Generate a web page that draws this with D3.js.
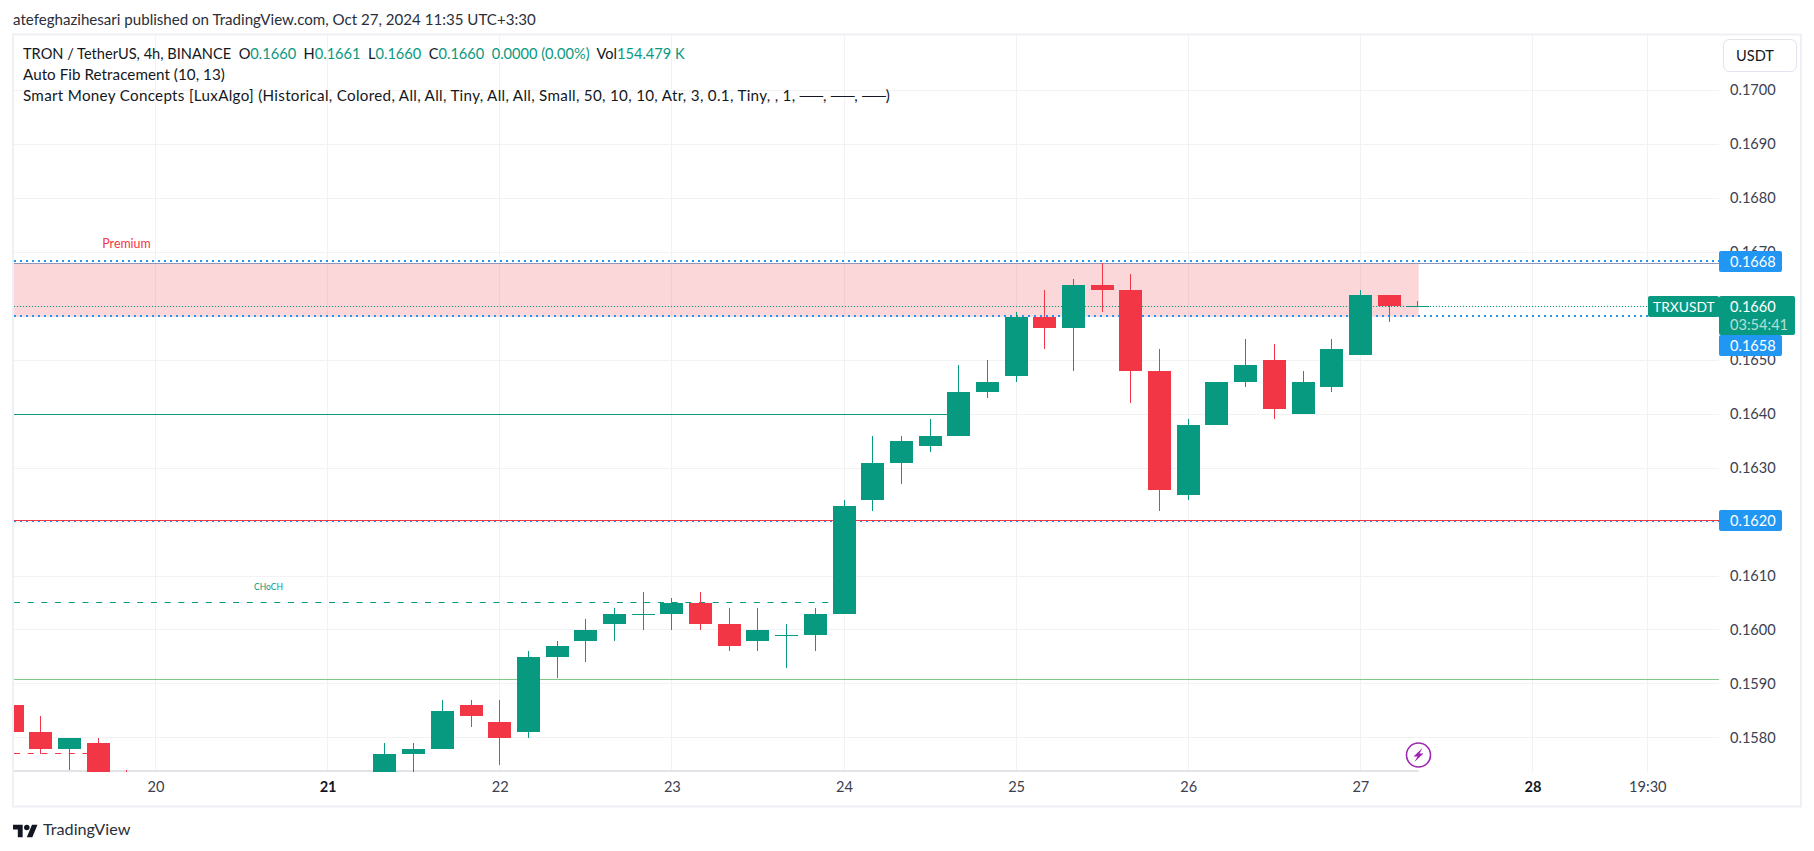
<!DOCTYPE html>
<html><head><meta charset="utf-8">
<script src="https://d3js.org/d3.v7.min.js"></script>
<style>html,body{margin:0;padding:0;background:#fff;overflow:hidden}svg{display:block}text{font-family:Lato,sans-serif}</style>
</head><body><svg id="c" width="1814" height="851"></svg>
<script>
const times =[19.167,19.333,19.5,19.667,19.833,21.333,21.5,21.667,21.833,22,22.167,22.333,22.5,22.667,22.833,23,23.167,23.333,23.5,23.667,23.833,24,24.167,24.333,24.5,24.667,24.833,25,25.167,25.333,25.5,25.667,25.833,26,26.167,26.333,26.5,26.667,26.833,27,27.167,27.333];
const opens =[.1586,.1581,.1578,.1579,.1572,.1570,.1577,.1578,.1586,.1583,.1581,.1595,.1598,.1601,.1603,.1603,.1605,.1601,.1598,.1599,.1599,.1603,.1624,.1631,.1634,.1636,.1644,.1647,.1658,.1656,.1664,.1663,.1648,.1625,.1638,.1646,.1650,.1640,.1645,.1651,.1662,.1660];
const highs =[.1590,.1584,.1580,.1580,.1574,.1579,.1579,.1587,.1587,.1587,.1596,.1598,.1602,.1604,.1607,.1606,.1607,.1604,.1604,.1601,.1604,.1624,.1636,.1636,.1639,.1649,.1650,.1659,.1663,.1665,.1668,.1666,.1652,.1639,.1646,.1654,.1653,.1648,.1654,.1663,.1662,.1661];
const lows  =[.1580,.1577,.1574,.1565,.1565,.1565,.1570,.1578,.1582,.1575,.1580,.1591,.1594,.1598,.1600,.1600,.1600,.1596,.1596,.1593,.1596,.1603,.1622,.1627,.1633,.1636,.1643,.1646,.1652,.1648,.1659,.1642,.1622,.1624,.1638,.1645,.1639,.1640,.1644,.1651,.1657,.1660];
const closes=[.1581,.1578,.1580,.1570,.1565,.1577,.1578,.1585,.1584,.1580,.1595,.1597,.1600,.1603,.1603,.1605,.1601,.1597,.1600,.1599,.1603,.1623,.1631,.1635,.1636,.1644,.1646,.1658,.1656,.1664,.1663,.1648,.1626,.1638,.1646,.1649,.1641,.1646,.1652,.1662,.1660,.1660];
const priceTicks=[.158,.159,.160,.161,.162,.163,.164,.165,.166,.167,.168,.169,.170];
const timeTicks=[20,21,22,23,24,25,26,27,28,28.667];
const timeLabels=["20","21","22","23","24","25","26","27","28","19:30"];
const boldTicks=["21","28"];
const premiumZone=[.1668,.1658];
const zoneEnd=27.333;
const fibBlue=[.16684,.16582,.16202];
const currentPrice=.1660;
const supportGreen=.1640, supportGreenEnd=24.667;
const supportRed=.16204;
const lightGreen=.15909;
const chochLevel=.16052, chochEnd=24;
const redDash=.15772, redDashEnd=19.667;
const legend=[["Auto Fib Retracement (10, 13)",.05],["Smart Money Concepts [LuxAlgo] (Historical, Colored, All, All, Tiny, All, All, Small, 50, 10, 10, Atr, 3, 0.1, Tiny, , 1, ──, ──, ──)",.3]];
const ohlc=[["TRON / TetherUS, 4h, BINANCE  O","#131722"],["0.1660","#089981"],["  H","#131722"],["0.1661","#089981"],["  L","#131722"],["0.1660","#089981"],["  C","#131722"],["0.1660","#089981"],["  0.0000 (0.00%)","#089981"],["  Vol","#131722"],["154.479 K","#089981"]];

const G="#089981",R="#f23645",B="#2196f3",GRID="#f2f2f4",FRAME="#eff0f6",TXT="#131722",AXT="#3c4150";
const FS=14.6;
const L=14,Rt=1719,T=36,Bm=772;
const x=d3.scaleLinear().domain([20,28]).range([155.5,1532.5]);
const y=d3.scaleLinear().domain([.158,.170]).range([737.8,90.3]);
const svg=d3.select("#c");
svg.append("defs").append("clipPath").attr("id","pc").append("rect").attr("x",L).attr("y",T).attr("width",Rt-L).attr("height",Bm-T);

svg.append("rect").attr("x",13).attr("y",34.5).attr("width",1788).attr("height",772).attr("fill","none").attr("stroke",FRAME).attr("stroke-width",2);

const gg=svg.append("g");
gg.selectAll("line.h").data(priceTicks).join("line").attr("x1",L).attr("x2",Rt).attr("y1",d=>Math.round(y(d)-.4)+.5).attr("y2",d=>Math.round(y(d)-.4)+.5).attr("stroke",GRID);
gg.append("g").selectAll("line").data(timeTicks).join("line").attr("y1",T).attr("y2",Bm).attr("x1",d=>Math.floor(x(d))+.5).attr("x2",d=>Math.floor(x(d))+.5).attr("stroke",GRID);

const plot=svg.append("g").attr("clip-path","url(#pc)");
plot.append("rect").attr("x",L).attr("width",x(zoneEnd)-L+1).attr("y",y(premiumZone[0])).attr("height",y(premiumZone[1])-y(premiumZone[0])).attr("fill",R).attr("fill-opacity",.2);
plot.append("rect").attr("x",L).attr("width",x(zoneEnd)-L+1).attr("y",770).attr("height",2).attr("fill","#e2e3e6");
const hl=(v,x1,x2,c,w,dash)=>plot.append("line").attr("x1",x1).attr("x2",x2).attr("y1",Math.round(y(v))+(w%2?.5:0)).attr("y2",Math.round(y(v))+(w%2?.5:0)).attr("stroke",c).attr("stroke-width",w).attr("stroke-dasharray",dash||null);
hl(premiumZone[0],L,Rt,"#8f95bb",1);
hl(supportGreen,L,x(supportGreenEnd),G,1);
hl(lightGreen,L,Rt,"#81c784",1);
hl(chochLevel,L,x(chochEnd),G,1,"6 7.7");
hl(redDash,L,x(redDashEnd),R,1,"6 7.7");
fibBlue.forEach(v=>hl(v,L,Rt,B,2,"2 4"));
hl(supportRed,L,Rt,R,1);
hl(currentPrice,L,Rt,G,1,"1 2");

const idx=d3.range(times.length);
const col=i=>closes[i]>opens[i]?G:closes[i]<opens[i]?R:G;
const bw=23;
plot.selectAll("rect.w").data(idx).join("rect").attr("x",i=>Math.floor(x(times[i]))).attr("width",1)
 .attr("y",i=>Math.round(y(highs[i]))).attr("height",i=>Math.round(y(lows[i]))-Math.round(y(highs[i]))).attr("fill",col);
plot.append("g").selectAll("rect").data(idx).join("rect").attr("x",i=>Math.round(x(times[i])-bw/2)).attr("width",bw)
 .attr("y",i=>Math.round(y(Math.max(opens[i],closes[i])))).attr("height",i=>Math.max(1,Math.round(y(Math.min(opens[i],closes[i])))-Math.round(y(Math.max(opens[i],closes[i]))))).attr("fill",col);

svg.append("text").attr("x",126.5).attr("y",248).attr("text-anchor","middle").attr("font-size",12.4).attr("fill",R).text("Premium");
svg.append("text").attr("x",268.5).attr("y",590).attr("text-anchor","middle").attr("font-size",8.5).attr("fill",G).text("CHoCH");

const ay=svg.append("g").attr("transform",`translate(1730,0)`).call(d3.axisRight(y).tickValues(priceTicks).tickFormat(d3.format(".4f")).tickSize(0).tickPadding(0));
ay.select(".domain").remove();
ay.selectAll("text").attr("font-size",FS).attr("fill",AXT).attr("font-family","Lato,sans-serif");
const tickLab=d=>timeLabels[timeTicks.indexOf(d)];
const ax=svg.append("g").attr("transform",`translate(0,${Bm})`).call(d3.axisBottom(x).tickValues(timeTicks).tickFormat(tickLab).tickSize(0).tickPadding(10));
ax.select(".domain").remove();
ax.selectAll("text").attr("font-size",FS).attr("font-family","Lato,sans-serif").attr("fill",d=>boldTicks.includes(tickLab(d))?TXT:AXT).attr("font-weight",d=>boldTicks.includes(tickLab(d))?700:400);

const tag=(x0,y0,w,h,fill,lines,tx,fs)=>{
 svg.append("rect").attr("x",x0).attr("y",y0).attr("width",w).attr("height",h).attr("rx",2).attr("fill",fill);
 lines.forEach(l=>svg.append("text").attr("x",tx).attr("y",l[1]).attr("font-size",fs||FS).attr("fill",l[2]||"#fff").attr("fill-opacity",l[3]||1).text(l[0]));
};
tag(1719,251,63,21,B,[["0.1668",266.5]],1730);
tag(1719,510,63,21,B,[["0.1620",525.5]],1730);
tag(1719,335,63,21,B,[["0.1658",350.5]],1730);
tag(1648,296,71,21,G,[["TRXUSDT",311.5]],1653,13.8);
tag(1719,296,76,39,G,[["0.1660",311.5],["03:54:41",329.5,"#fff",.7]],1730);

svg.append("rect").attr("x",1723.5).attr("y",39.5).attr("width",73).attr("height",32).attr("rx",6).attr("fill","#fff").attr("stroke","#e0e3eb");
svg.append("text").attr("x",1736).attr("y",60.5).attr("font-size",FS).attr("fill",TXT).text("USDT");

svg.append("text").attr("x",13).attr("y",24.5).attr("font-size",15.1).attr("fill","#2a2e39").text("atefeghazihesari published on TradingView.com, Oct 27, 2024 11:35 UTC+3:30");
const lt=svg.append("text").attr("x",23).attr("y",58.5).attr("font-size",FS).attr("xml:space","preserve").style("white-space","pre");
lt.selectAll("tspan").data(ohlc).join("tspan").attr("fill",d=>d[1]).text(d=>d[0]);
legend.forEach((t,i)=>svg.append("text").attr("x",23).attr("y",79.5+i*21).attr("font-size",15.2).attr("letter-spacing",t[1]).attr("fill",TXT).text(t[0]));

const bolt=svg.append("g").attr("transform","translate(1418.5,755)");
bolt.append("circle").attr("r",12).attr("fill","#fff").attr("stroke","#9c27b0").attr("stroke-width",1.6);
bolt.append("path").attr("d","M4,-7 L-5,1.5 L-1,1.5 L-4,7 L5,-1.5 L1,-1.5 Z").attr("fill","#9c27b0");

const logo=svg.append("g").attr("transform","translate(13,822) scale(.69)").attr("fill","#131722");
logo.append("path").attr("d","M14 22H7V11H0V4h14v18zM28 22h-8l7.5-18h8L28 22z");
logo.append("circle").attr("cx",20).attr("cy",8).attr("r",4);
svg.append("text").attr("x",43).attr("y",835).attr("font-size",16.2).attr("fill","#2a2e39").text("TradingView");
</script></body></html>
